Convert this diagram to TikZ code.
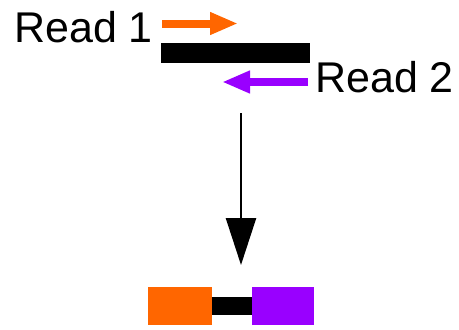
\documentclass[tikz,border=0pt]{standalone}
\usepackage{fontspec}
\setmainfont{Liberation Sans}
\usetikzlibrary{arrows.meta,positioning}
\definecolor{readorange}{RGB}{255,102,0}
\definecolor{readpurple}{RGB}{153,0,255}

\begin{document}
\begin{tikzpicture}[x=1pt,y=-1pt,
    readlabel/.style={font=\fontsize{43}{45}\selectfont, inner sep=0pt, anchor=base west},
    readarrow/.style={line width=8pt, -{Triangle[length=28pt,width=21pt]}},
    readblock/.style={minimum height=38pt, inner sep=0pt}]
    \useasboundingbox (0,0) rectangle (459,330);

    % Paired reads on the fragment
    \node[fill=black, minimum width=149pt, minimum height=20pt, inner sep=0pt] (frag) at (235.5,53) {};
    \node[readlabel] (read1) at (14,42) {Read 1};
    \node[readlabel] (read2) at (315,92) {Read 2};
    \coordinate (r1start) at (162,23.5);
    \coordinate (r1end) at (238,23.5);
    \coordinate (r2start) at (308,82);
    \coordinate (r2end) at (222,82);
    \draw[readarrow, readorange] (r1start) -- (r1end);
    \draw[readarrow, readpurple] (r2start) -- (r2end);

    % Arrow down
    \coordinate (downtop) at (241,113);
    \coordinate (downtip) at (241,265);
    \draw[line width=2.5pt, -{Triangle[length=47pt,width=30pt]}] (downtop) -- (downtip);

    % Joined read pair
    \node[readblock, fill=readorange, minimum width=64pt] (r1blk) at (180,306) {};
    \node[readblock, fill=readpurple, minimum width=62pt] (r2blk) at (283,306) {};
    \draw[line width=18pt] (r1blk.east) -- (r2blk.west);

\end{tikzpicture}
\end{document}
